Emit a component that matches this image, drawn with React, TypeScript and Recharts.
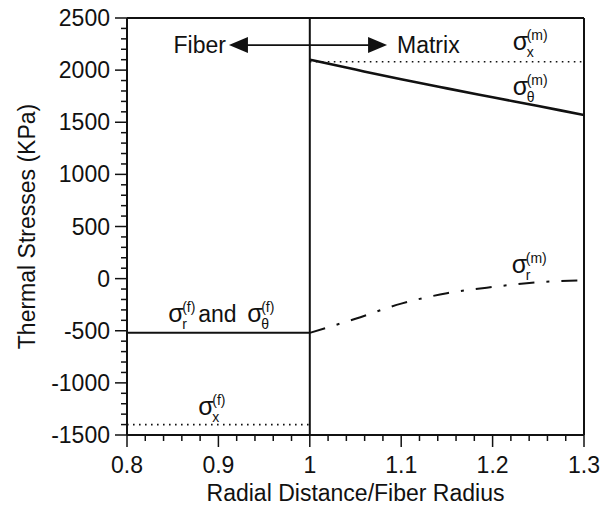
import { LineChart, Line, XAxis, YAxis, ReferenceLine, ReferenceDot } from 'recharts'

const FONT = '"Liberation Sans", Arial, Helvetica, sans-serif'
const INK = '#111'

// axes
const xMajorTicks = [0.8, 0.9, 1, 1.1, 1.2, 1.3]
const yMajorTicks = [-1500, -1000, -500, 0, 500, 1000, 1500, 2000, 2500]

// fiber side (r/a from 0.8 to 1)
const fiberR = [0.8, 1]
const fiberRadialHoop = [-520, -520]
const fiberAxial = [-1400, -1400]

// matrix side (r/a from 1 to 1.3)
const matrixR = [1, 1.05, 1.1, 1.15, 1.2, 1.25, 1.3]
const matrixAxial = [2080, 2080, 2080, 2080, 2080, 2080, 2080]
const matrixHoop = [2100, 2005, 1912, 1825, 1740, 1655, 1570]
const matrixRadial = [-520, -385, -240, -140, -80, -35, -15]

const toPoints = (xs: number[], ys: number[]) => xs.map((x, i) => ({ x, y: ys[i] }))

// 4 minor ticks between each pair of major ticks
const withMinors = (majors: number[]) => {
  const out: number[] = []
  majors.forEach((m, i) => {
    out.push(m)
    const next = majors[i + 1]
    if (next === undefined) return
    for (let k = 1; k < 5; k++) out.push(Math.round((m + ((next - m) * k) / 5) * 1000) / 1000)
  })
  return out
}

const isMajor = (v: number, majors: number[]) => majors.some((m) => Math.abs(m - v) < 1e-6)

const YTick = (props: any) => {
  const { x, y, payload } = props
  const major = isMajor(payload.value, yMajorTicks)
  return (
    <g>
      <line x1={x - (major ? 12 : 6)} x2={x} y1={y} y2={y} stroke={INK} strokeWidth={1.5} />
      {major && (
        <text x={x - 17} y={y + 8} textAnchor="end" fontSize={23} fontFamily={FONT} fill={INK}>
          {payload.value}
        </text>
      )}
    </g>
  )
}

const XTick = (props: any) => {
  const { x, y, payload } = props
  const major = isMajor(payload.value, xMajorTicks)
  return (
    <g>
      <line x1={x} x2={x} y1={y} y2={y + (major ? 12 : 6)} stroke={INK} strokeWidth={1.5} />
      {major && (
        <text x={x} y={y + 38} textAnchor="middle" fontSize={23} fontFamily={FONT} fill={INK}>
          {payload.value}
        </text>
      )}
    </g>
  )
}

const YTitle = (props: any) => {
  const { viewBox } = props
  const cx = 35
  const cy = viewBox.y + viewBox.height / 2
  return (
    <text x={cx} y={cy} transform={`rotate(-90 ${cx} ${cy})`} textAnchor="middle" fontSize={23} fontFamily={FONT} fill={INK}>
      Thermal Stresses (KPa)
    </text>
  )
}

const Sigma = ({ x, y, sub, sup }: { x: number; y: number; sub: string; sup: string }) => (
  <g fontFamily={FONT} fill={INK}>
    <text x={x} y={y} fontSize={25}>σ</text>
    <text x={x + 14} y={y + 7} fontSize={14}>{sub}</text>
    <text x={x + 14} y={y - 10} fontSize={14}>{sup}</text>
  </g>
)

const sigmaShape = (sub: string, sup: string) => (p: any) => <Sigma x={p.cx} y={p.cy} sub={sub} sup={sup} />

const fiberPairShape = (p: any) => (
  <g>
    <Sigma x={p.cx} y={p.cy} sub="r" sup="(f)" />
    <text x={p.cx + 30} y={p.cy} fontSize={23} fontFamily={FONT} fill={INK}>and</text>
    <Sigma x={p.cx + 79} y={p.cy} sub="θ" sup="(f)" />
  </g>
)

const ArrowShape = (p: any) => {
  const { x1, y1, x2 } = p
  const head = 19
  const half = 8
  return (
    <g>
      <line x1={x1 + head - 2} x2={x2 - head + 2} y1={y1} y2={y1} stroke={INK} strokeWidth={1.8} />
      <polygon points={`${x1},${y1} ${x1 + head},${y1 - half} ${x1 + head},${y1 + half}`} fill={INK} />
      <polygon points={`${x2},${y1} ${x2 - head},${y1 - half} ${x2 - head},${y1 + half}`} fill={INK} />
      <text x={x1 - 3} y={y1 + 8} textAnchor="end" fontSize={23} fontFamily={FONT} fill={INK}>Fiber</text>
      <text x={x2 + 10} y={y1 + 8} fontSize={23} fontFamily={FONT} fill={INK}>Matrix</text>
    </g>
  )
}

export default function App() {
  return (
    <div style={{ position: 'absolute', left: 0, top: 0, width: 601, height: 508, background: '#fff' }}>
      <LineChart width={601} height={508} margin={{ top: 18, right: 17, bottom: 0, left: 0 }}>
        <XAxis
          type="number"
          dataKey="x"
          domain={[0.8, 1.3]}
          ticks={withMinors(xMajorTicks)}
          interval={0}
          allowDataOverflow
          height={73}
          tickSize={0}
          tickMargin={0}
          tickLine={false}
          tick={<XTick />}
          axisLine={{ stroke: INK, strokeWidth: 2 }}
          label={{ value: 'Radial Distance/Fiber Radius', position: 'insideBottom', offset: 7, fontSize: 23, fontFamily: FONT, fill: INK }}
        />
        <YAxis
          type="number"
          domain={[-1500, 2500]}
          ticks={withMinors(yMajorTicks)}
          interval={0}
          allowDataOverflow
          width={127}
          tickSize={0}
          tickMargin={0}
          tickLine={false}
          tick={<YTick />}
          axisLine={{ stroke: INK, strokeWidth: 2 }}
          label={<YTitle />}
        />
        <ReferenceLine y={2500} stroke={INK} strokeWidth={2} />
        <ReferenceLine x={1.3} stroke={INK} strokeWidth={2} />
        <ReferenceLine x={1} stroke={INK} strokeWidth={2} />

        <Line data={toPoints(fiberR, fiberRadialHoop)} dataKey="y" type="linear" stroke={INK} strokeWidth={2} dot={false} isAnimationActive={false} />
        <Line data={toPoints(fiberR, fiberAxial)} dataKey="y" type="linear" stroke={INK} strokeWidth={1.6} strokeDasharray="1.6 4.4" dot={false} isAnimationActive={false} />
        <Line data={toPoints(matrixR, matrixAxial)} dataKey="y" type="linear" stroke={INK} strokeWidth={1.6} strokeDasharray="1.6 4.4" dot={false} isAnimationActive={false} />
        <Line data={toPoints(matrixR, matrixHoop)} dataKey="y" type="monotone" stroke={INK} strokeWidth={2.6} dot={false} isAnimationActive={false} />
        <Line data={toPoints(matrixR, matrixRadial)} dataKey="y" type="monotone" stroke={INK} strokeWidth={2} strokeDasharray="16 12 3 12" dot={false} isAnimationActive={false} />

        <ReferenceLine segment={[{ x: 0.9115, y: 2240 }, { x: 1.0845, y: 2240 }]} shape={ArrowShape} ifOverflow="visible" />

        <ReferenceDot x={1.222} y={2193} r={0} shape={sigmaShape('x', '(m)')} ifOverflow="visible" />
        <ReferenceDot x={1.222} y={1761} r={0} shape={sigmaShape('θ', '(m)')} ifOverflow="visible" />
        <ReferenceDot x={1.221} y={54} r={0} shape={sigmaShape('r', '(m)')} ifOverflow="visible" />
        <ReferenceDot x={0.845} y={-416} r={0} shape={fiberPairShape} ifOverflow="visible" />
        <ReferenceDot x={0.878} y={-1308} r={0} shape={sigmaShape('x', '(f)')} ifOverflow="visible" />
      </LineChart>
    </div>
  )
}
